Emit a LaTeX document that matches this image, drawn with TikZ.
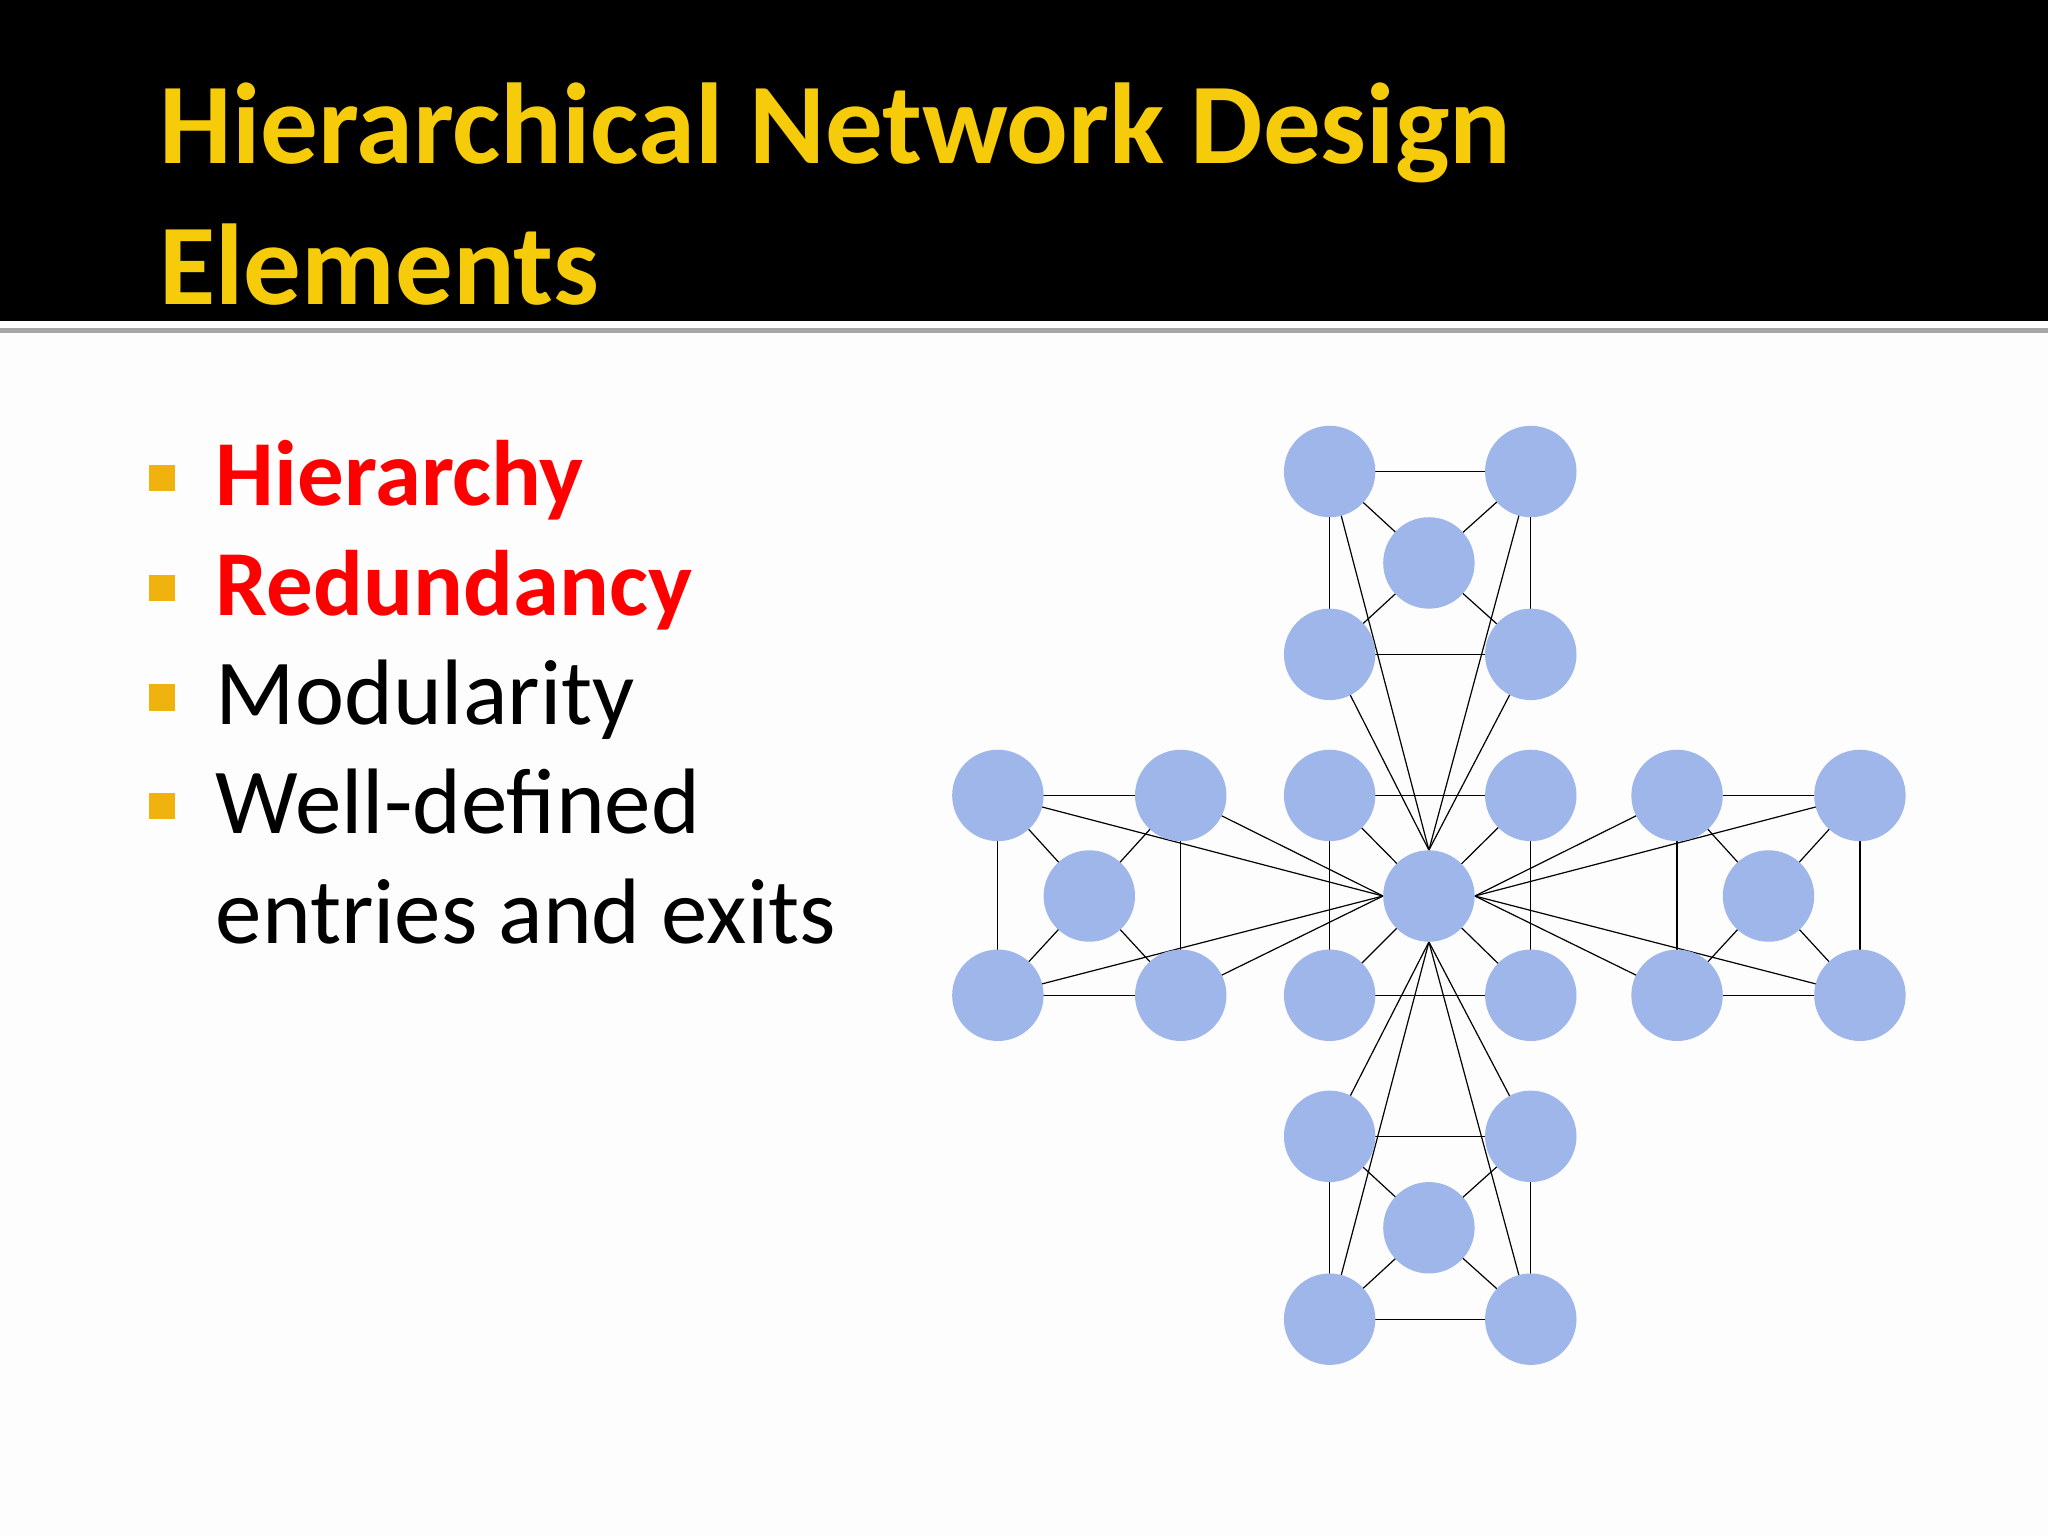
\documentclass[tikz,border=0pt]{standalone}
\usepackage{fontspec}
\setmainfont{Carlito}
\usetikzlibrary{backgrounds}
\begin{document}
\begin{tikzpicture}[x=1.306pt,y=-1.306pt,
  nd/.style={circle,fill=nodeblue,minimum size=70*1.306pt,inner sep=0pt},
  ln/.style={line width=1.2pt,black},
  btxt/.style={anchor=base west,inner sep=0pt,font=\fontsize{93}{110}\selectfont}]
\definecolor{nodeblue}{HTML}{9FB6EA}
\definecolor{bulletor}{HTML}{F0B20E}
\definecolor{titley}{HTML}{F6CB0A}
\definecolor{bg}{HTML}{FDFDFD}
\useasboundingbox (0,0) rectangle (1568,1176);
\fill[black] (0,0) rectangle (1568,246);
\fill[gray!70] (0,251) rectangle (1568,255);
\node[anchor=base west,inner sep=0pt,text=titley,font=\bfseries\fontsize{115}{140}\selectfont] (t1) at (122,125) {Hierarchical Network Design};
\node[anchor=base west,inner sep=0pt,text=titley,font=\bfseries\fontsize{115}{140}\selectfont] (t2) at (122,233) {Elements};
% bullets
\foreach \yy in {366,450,534,617} \fill[bulletor] (114,\yy-10) rectangle (134,\yy+10);
\node[btxt,text=red,font=\bfseries\fontsize{93}{110}\selectfont] (b1) at (165,387) {Hierarchy};
\node[btxt,text=red,font=\bfseries\fontsize{93}{110}\selectfont] (b2) at (165,471) {Redundancy};
\node[btxt] (b3) at (165,555) {Modularity};
\node[btxt] (b4) at (165,638) {Well-defined};
\node[btxt] (b5) at (165,722) {entries and exits};
% nodes
\node[nd] (C) at (1094,686) {};
\node[nd] (c1) at (1018,609) {}; \node[nd] (c2) at (1172,609) {};
\node[nd] (c3) at (1018,762) {}; \node[nd] (c4) at (1172,762) {};
\node[nd] (t1n) at (1018,361) {}; \node[nd] (t2n) at (1172,361) {};
\node[nd] (t3n) at (1018,501) {}; \node[nd] (t4n) at (1172,501) {};
\node[nd] (tc) at (1094,431) {};
\node[nd] (u1) at (1018,870) {}; \node[nd] (u2) at (1172,870) {};
\node[nd] (u3) at (1018,1010) {}; \node[nd] (u4) at (1172,1010) {};
\node[nd] (uc) at (1094,940) {};
\node[nd] (l1) at (764,609) {}; \node[nd] (l2) at (904,609) {};
\node[nd] (l3) at (764,762) {}; \node[nd] (l4) at (904,762) {};
\node[nd] (lc) at (834,686) {};
\node[nd] (r1) at (1284,609) {}; \node[nd] (r2) at (1424,609) {};
\node[nd] (r3) at (1284,762) {}; \node[nd] (r4) at (1424,762) {};
\node[nd] (rc) at (1354,686) {};
\begin{scope}[on background layer]
\fill[bg] (0,255) rectangle (1568,1176);
\foreach \a/\b/\c/\d/\m in {c1/c2/c3/c4/C,t1n/t2n/t3n/t4n/tc,u1/u2/u3/u4/uc,l1/l2/l3/l4/lc,r1/r2/r3/r4/rc}{
  \draw[ln] (\a.center) -- (\b.center) -- (\d.center) -- (\c.center) -- cycle;
  \foreach \k in {\a,\b,\c,\d} \draw[ln] (\k.center) -- (\m.center);
}
\foreach \k in {t1n,t2n,t3n,t4n} \draw[ln] (\k.center) -- (C.north);
\foreach \k in {u1,u2,u3,u4} \draw[ln] (\k.center) -- (C.south);
\foreach \k in {l1,l2,l3,l4} \draw[ln] (\k.center) -- (C.west);
\foreach \k in {r1,r2,r3,r4} \draw[ln] (\k.center) -- (C.east);
\end{scope}
\end{tikzpicture}
\end{document}
